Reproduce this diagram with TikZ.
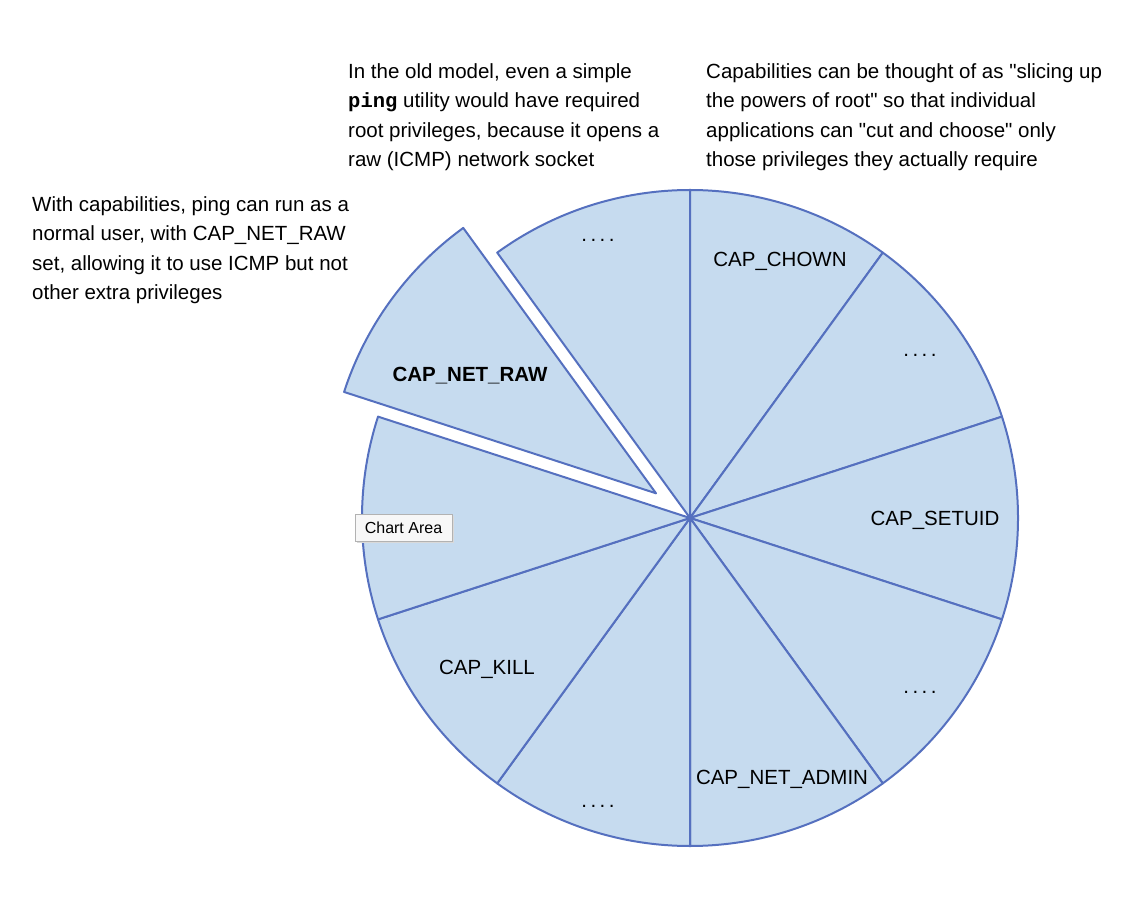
\documentclass[tikz,border=0pt]{standalone}
\usepackage{fontspec}
\setmainfont{Liberation Sans}[Ligatures=TeXOff]
\setmonofont{Liberation Mono}
\begin{document}
\begin{tikzpicture}[x=1pt,y=1pt,
  slice/.style={fill=pief,draw=piel,line width=2pt,line join=round},
  note/.style={anchor=north west,align=left,inner sep=0pt,font=\fontsize{20.5}{29.6}\selectfont},
  lab/.style={font=\fontsize{20.5}{24}\selectfont}]
\definecolor{pief}{HTML}{C6DBEF}
\definecolor{piel}{HTML}{5570BF}
\useasboundingbox (0,0) rectangle (1137,898);
\coordinate (C) at (690,380);
\def\R{328}
\foreach \a in {126,90,54,18,-18,-54,-90,-126,-162}{
  \draw[slice] (C) -- ++(\a:\R) arc[start angle=\a,end angle=\a-36,radius=\R] -- cycle;
}
\draw[slice] ([shift={(144:42)}]C) -- ++(126:\R) arc[start angle=126,end angle=162,radius=\R] -- cycle;
% labels
\node[lab] (l1) at (780,637) {CAP\_CHOWN};
\node[lab] (l2) at (920,543) {.\,.\,.\,.};
\node[lab] (l3) at (935,378) {CAP\_SETUID};
\node[lab] (l4) at (920,206) {.\,.\,.\,.};
\node[lab] (l5) at (782,119) {CAP\_NET\_ADMIN};
\node[lab] (l6) at (598,92) {.\,.\,.\,.};
\node[lab] (l7) at (487,229) {CAP\_KILL};
\node[lab] (l8) at (598,658) {.\,.\,.\,.};
\node[lab,font=\fontsize{20.5}{24}\selectfont\bfseries] (l9) at (470,522) {CAP\_NET\_RAW};
% tooltip
\fill[black!15] (357,355) rectangle (454,382);
\node[draw=black!30,fill=black!3,minimum width=97pt,minimum height=27pt,inner sep=0pt,font=\fontsize{16}{18}\selectfont] (tip) at (403.5,370.5) {Chart Area};
% notes
\node[note] (n1) at (32,702) {With capabilities, ping can run as a\\normal user, with CAP\_NET\_RAW\\set, allowing it to use ICMP but not\\other extra privileges};
\node[note] (n2) at (348,835) {In the old model, even a simple\\\texttt{\bfseries ping} utility would have required\\root privileges, because it opens a\\raw (ICMP) network socket};
\node[note] (n3) at (706,835) {Capabilities can be thought of as "slicing up\\the powers of root" so that individual\\applications can "cut and choose" only\\those privileges they actually require};
\end{tikzpicture}
\end{document}
